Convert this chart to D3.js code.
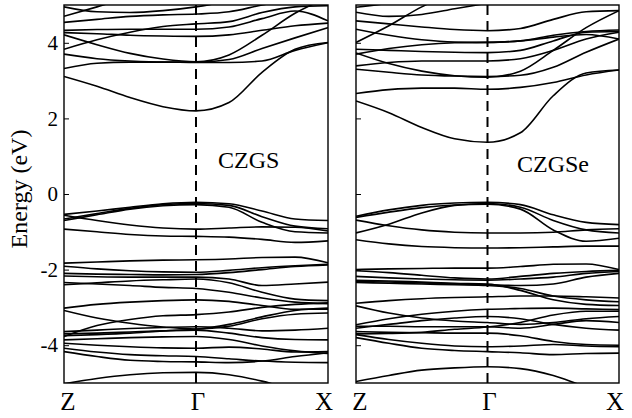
<!DOCTYPE html>
<html>
<head>
<meta charset="utf-8">
<script src="https://cdn.jsdelivr.net/npm/d3@7"></script>
</head>
<body style="margin:0">
<svg width="632" height="418"></svg>
<script>
const kPoints = [0, 0.25, 0.5, 0.75, 1, 1.25, 1.5, 1.75, 2];
const kLabels = ['Z', '\u0393', 'X'];
const kLabelPos = [0, 1, 2];
const yTicks = [-4, -2, 0, 2, 4];
const panelNames = ['CZGS', 'CZGSe'];
const fontName = "'Liberation Serif'";

// CZGS, energies (eV) at kPoints
const czgsConduction = [
  [3.11, 2.85, 2.55, 2.31, 2.20, 2.42, 3.22, 3.83, 4.01],
  [3.32, 3.46, 3.49, 3.49, 3.48, 3.48, 3.52, 3.80, 4.00],
  [3.70, 3.58, 3.52, 3.49, 3.49, 3.56, 3.85, 4.13, 4.40],
  [4.21, 3.95, 3.72, 3.57, 3.50, 3.68, 4.20, 4.78, 5.20],
  [3.83, 4.08, 4.28, 4.43, 4.50, 4.56, 4.80, 4.95, 4.98],
  [4.27, 4.24, 4.20, 4.18, 4.17, 4.21, 4.33, 4.45, 4.52],
  [4.33, 4.35, 4.36, 4.36, 4.36, 4.42, 4.64, 4.84, 4.58],
  [4.54, 4.62, 4.70, 4.74, 4.76, 4.82, 5.00, 5.15, 5.20],
  [4.95, 4.82, 4.80, 4.85, 4.95, 5.10, 5.20, 5.20, 5.20],
  [4.70, 4.95, 5.20, 5.30, 5.30, 5.30, 5.30, 5.30, 5.30]
];
const czgsValence = [
  [-0.54, -0.45, -0.35, -0.26, -0.22, -0.26, -0.45, -0.66, -0.70],
  [-0.66, -0.52, -0.38, -0.28, -0.25, -0.30, -0.60, -0.85, -0.92],
  [-0.70, -0.55, -0.40, -0.31, -0.28, -0.35, -0.75, -1.00, -1.03],
  [-0.56, -0.70, -0.82, -0.90, -0.93, -0.90, -0.87, -0.88, -0.98],
  [-0.93, -1.00, -1.07, -1.11, -1.12, -1.14, -1.20, -1.28, -1.24],
  [-1.83, -1.80, -1.77, -1.75, -1.74, -1.72, -1.68, -1.67, -1.82],
  [-1.91, -1.98, -2.03, -2.06, -2.07, -2.02, -1.95, -1.90, -1.86],
  [-2.10, -2.12, -2.13, -2.14, -2.13, -2.08, -2.00, -1.92, -1.88],
  [-2.17, -2.19, -2.20, -2.20, -2.20, -2.25, -2.42, -2.38, -2.33],
  [-2.34, -2.38, -2.42, -2.47, -2.50, -2.60, -2.75, -2.86, -2.90],
  [-2.40, -2.35, -2.30, -2.27, -2.25, -2.35, -2.60, -2.78, -2.82],
  [-3.02, -2.92, -2.86, -2.82, -2.80, -2.84, -2.95, -3.05, -3.05],
  [-3.08, -3.28, -3.42, -3.52, -3.57, -3.50, -3.30, -3.18, -3.15],
  [-3.77, -3.48, -3.32, -3.22, -3.19, -3.12, -3.00, -2.92, -2.88],
  [-3.64, -3.60, -3.56, -3.53, -3.51, -3.55, -3.62, -3.60, -3.55],
  [-3.70, -3.68, -3.65, -3.62, -3.60, -3.68, -3.80, -3.85, -3.86],
  [-3.86, -3.83, -3.80, -3.78, -3.77, -3.85, -4.02, -4.15, -4.22],
  [-3.95, -4.00, -4.04, -4.07, -4.08, -4.05, -4.10, -4.18, -4.17],
  [-4.08, -4.18, -4.25, -4.28, -4.30, -4.36, -4.42, -4.45, -4.46],
  [-4.17, -4.30, -4.40, -4.43, -4.44, -4.46, -4.42, -4.30, -4.20],
  [-3.75, -3.72, -3.68, -3.62, -3.58, -3.45, -3.25, -3.08, -3.02],
  [-5.02, -4.88, -4.78, -4.73, -4.72, -4.78, -4.95, -5.20, -5.40]
];

// CZGSe
const czgseConduction = [
  [2.46, 2.15, 1.76, 1.46, 1.37, 1.62, 2.60, 3.20, 3.28],
  [2.66, 2.76, 2.80, 2.80, 2.77, 2.82, 2.95, 3.15, 3.28],
  [3.30, 3.22, 3.15, 3.12, 3.11, 3.14, 3.35, 3.75, 4.10],
  [3.73, 3.45, 3.25, 3.13, 3.09, 3.25, 3.80, 4.40, 4.85],
  [3.39, 3.48, 3.52, 3.52, 3.52, 3.58, 3.80, 4.10, 4.28],
  [3.83, 3.80, 3.77, 3.75, 3.74, 3.80, 4.05, 4.28, 4.30],
  [3.70, 3.85, 3.95, 4.00, 4.01, 4.05, 4.20, 4.30, 4.34],
  [4.58, 4.50, 4.42, 4.35, 4.32, 4.38, 4.62, 4.82, 4.85],
  [4.01, 4.45, 4.95, 5.30, 5.30, 5.30, 5.30, 5.30, 5.30],
  [4.36, 4.20, 4.08, 4.02, 4.01, 4.05, 4.15, 4.22, 4.10],
  [4.94, 5.05, 5.20, 5.30, 5.30, 5.30, 5.30, 5.30, 5.30],
  [4.81, 4.70, 4.75, 4.90, 5.05, 5.20, 5.30, 5.30, 5.30]
];
const czgseValence = [
  [-0.59, -0.42, -0.30, -0.24, -0.22, -0.28, -0.55, -0.75, -0.81],
  [-1.03, -0.80, -0.50, -0.30, -0.25, -0.35, -0.70, -0.95, -1.03],
  [-0.69, -0.84, -0.95, -1.01, -1.03, -1.03, -1.01, -0.95, -0.92],
  [-1.21, -1.32, -1.39, -1.42, -1.43, -1.42, -1.40, -1.38, -1.38],
  [-0.62, -0.48, -0.36, -0.29, -0.27, -0.40, -0.95, -1.25, -1.17],
  [-2.00, -1.98, -1.97, -1.96, -1.96, -1.92, -1.86, -1.85, -2.00],
  [-2.03, -2.08, -2.15, -2.22, -2.25, -2.18, -2.10, -2.05, -2.02],
  [-2.18, -2.22, -2.25, -2.27, -2.28, -2.25, -2.20, -2.10, -2.05],
  [-2.31, -2.33, -2.35, -2.38, -2.40, -2.42, -2.38, -2.20, -2.10],
  [-2.34, -2.36, -2.38, -2.40, -2.42, -2.50, -2.70, -2.80, -2.85],
  [-2.28, -2.30, -2.33, -2.36, -2.38, -2.55, -2.80, -2.92, -2.95],
  [-2.89, -2.82, -2.77, -2.74, -2.72, -2.70, -2.70, -2.72, -2.75],
  [-2.96, -3.15, -3.28, -3.36, -3.40, -3.45, -3.40, -3.30, -3.24],
  [-3.46, -3.30, -3.18, -3.10, -3.05, -3.03, -3.02, -3.04, -3.06],
  [-3.50, -3.50, -3.51, -3.51, -3.51, -3.55, -3.45, -3.35, -3.40],
  [-3.55, -3.45, -3.35, -3.28, -3.24, -3.30, -3.45, -3.55, -3.60],
  [-3.64, -3.66, -3.67, -3.68, -3.68, -3.75, -3.90, -3.98, -4.00],
  [-3.72, -3.85, -3.95, -4.02, -4.04, -4.02, -3.98, -4.02, -4.04],
  [-3.80, -3.95, -4.08, -4.14, -4.17, -4.20, -4.25, -4.22, -4.21],
  [-3.70, -3.69, -3.66, -3.58, -3.52, -3.40, -3.20, -3.10, -3.10],
  [-4.96, -4.80, -4.66, -4.60, -4.57, -4.62, -4.80, -5.10, -5.30]
];

const panels = [
  { name: panelNames[0], bands: czgsConduction.concat(czgsValence), x0: 64, x1: 328, labelX: 218, labelY: 168 },
  { name: panelNames[1], bands: czgseConduction.concat(czgseValence), x0: 356, x1: 619, labelX: 517, labelY: 172 }
];

const svg = d3.select("svg");
const y = d3.scaleLinear().domain([-5, 5]).range([383, 5]);

function addText(parent, size){
  return parent.append("text")
               .attr("font-size", size)
               .style("font-family", fontName);
}

function renderPanel(p, i){
  const x = d3.scaleLinear().domain([0, 2]).range([p.x0, p.x1]);
  const g = svg.append("g");

  g.append("clipPath").attr("id", "clip" + i)
   .append("rect")
   .attr("x", p.x0).attr("y", y(5))
   .attr("width", p.x1 - p.x0).attr("height", y(-5) - y(5));

  const line = d3.line()
                 .x(function(d, j){ return x(kPoints[j]); })
                 .y(function(d){ return y(d); })
                 .curve(d3.curveMonotoneX);

  g.append("g").attr("clip-path", "url(#clip" + i + ")")
   .selectAll("path")
   .data(p.bands)
   .enter().append("path")
   .attr("fill", "none")
   .attr("stroke", "#000")
   .attr("stroke-width", 1.6)
   .attr("d", line);

  g.append("line")
   .attr("x1", x(1)).attr("x2", x(1))
   .attr("y1", y(5)).attr("y2", y(-5))
   .attr("stroke", "#000")
   .attr("stroke-width", 2)
   .attr("stroke-dasharray", "10 6");

  // ticks inside the left edge
  var yAxis = d3.axisRight(y).tickValues(yTicks).tickSize(5).tickFormat("");
  g.append("g")
   .attr("transform", "translate(" + p.x0 + ",0)")
   .call(yAxis)
   .call(function(a){ a.select(".domain").remove(); });

  g.append("rect")
   .attr("x", p.x0).attr("y", y(5))
   .attr("width", p.x1 - p.x0).attr("height", y(-5) - y(5))
   .attr("fill", "none")
   .attr("stroke", "#000")
   .attr("stroke-width", 1.4);

  kLabels.forEach(function(d, j){
    addText(g, 25)
      .attr("x", x(kLabelPos[j]) + (j == 0 ? 4 : (j == 2 ? -4 : 2)))
      .attr("y", 410)
      .attr("text-anchor", "middle")
      .text(d);
  });

  addText(g, 24)
    .attr("x", p.labelX).attr("y", p.labelY)
    .text(p.name);

  if(i == 0){
    yTicks.forEach(function(d){
      addText(g, 21)
        .attr("x", 58)
        .attr("y", y(d))
        .attr("dy", "0.34em")
        .attr("text-anchor", "end")
        .text(d);
    });
  }
}

panels.forEach(renderPanel);

addText(svg, 24)
   .attr("transform", "translate(27,189) rotate(-90)")
   .attr("text-anchor", "middle")
   .text("Energy (eV)");
</script>
</body>
</html>
